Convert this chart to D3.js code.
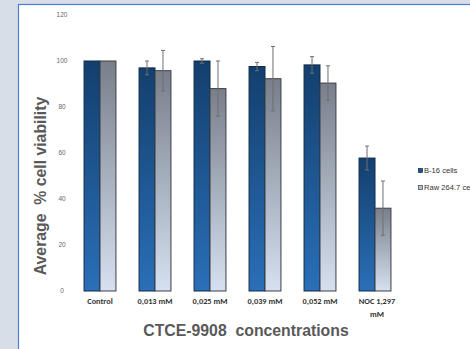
<!DOCTYPE html>
<html><head><meta charset="utf-8">
<script src="https://cdn.jsdelivr.net/npm/d3@7"></script>
<style>html,body{margin:0;padding:0;background:#d7dee8;overflow:hidden}</style>
</head><body>
<svg id="c" width="470" height="349"></svg>
<script>
const categories = ["Control","0,013 mM","0,025 mM","0,039 mM","0,052 mM","NOC 1,297 mM"];
const seriesNames = ["B-16 cells","Raw 264.7 cells"];
const b16Values = [100, 97, 100, 97.6, 98.3, 57.8];
const b16Errors = [0, 3, 1, 1.8, 3.6, 5.2];
const rawValues = [100, 95.8, 88, 92.3, 90.4, 36];
const rawErrors = [0, 8.8, 12, 14, 7.5, 11.8];
const yTicks = [0,20,40,60,80,100,120];

const svg = d3.select("#c");
const defs = svg.append("defs");
const g1 = defs.append("linearGradient").attr("id","gB").attr("x1",0).attr("y1",0).attr("x2",0).attr("y2",1);
g1.append("stop").attr("offset","0%").attr("stop-color","#133f6d");
g1.append("stop").attr("offset","100%").attr("stop-color","#2a6fb8");
const g2 = defs.append("linearGradient").attr("id","gR").attr("x1",0).attr("y1",0).attr("x2",0).attr("y2",1);
g2.append("stop").attr("offset","0%").attr("stop-color","#787f8b");
g2.append("stop").attr("offset","100%").attr("stop-color","#d6e0f0");

// white panel
svg.append("rect").attr("x",18.5).attr("y",4.5).attr("width",460).attr("height",360)
  .attr("fill","#fff").attr("stroke","#4a7fd6").attr("stroke-width",1.2);

const x0 = d3.scaleBand().domain(categories).range([72.5,402.5]).paddingInner(0.42).paddingOuter(0.21);
const x1 = d3.scaleBand().domain(seriesNames).range([0,x0.bandwidth()]);
const y = d3.scaleLinear().domain([0,120]).range([291,15]);

// y tick labels
svg.append("g").selectAll("text").data(yTicks).join("text")
  .attr("x",62).attr("y",d=>y(d)+2).attr("text-anchor","middle")
  .attr("font-family","Liberation Sans, Arial, sans-serif").attr("font-size",6.5).attr("fill","#666")
  .text(d=>d);

const series = [
  {name:seriesNames[0], vals:b16Values, errs:b16Errors, fill:"url(#gB)", stroke:"#0f2a48"},
  {name:seriesNames[1], vals:rawValues, errs:rawErrors, fill:"url(#gR)", stroke:"#3a3f47"}
];
series.forEach(s=>{
  const g = svg.append("g");
  g.selectAll("rect").data(categories).join("rect")
    .attr("x",c=>x0(c)+x1(s.name)).attr("width",x1.bandwidth())
    .attr("y",(c,i)=>y(s.vals[i])).attr("height",(c,i)=>y(0)-y(s.vals[i]))
    .attr("fill",s.fill).attr("stroke",s.stroke).attr("stroke-width",1);
});
series.forEach(s=>{
  const g = svg.append("g").attr("stroke","#6f6f6f").attr("stroke-width",1);
  categories.forEach((c,i)=>{
    if(!s.errs[i]) return;
    const cx = x0(c)+x1(s.name)+x1.bandwidth()/2;
    const t = y(s.vals[i]+s.errs[i]), b = y(s.vals[i]-s.errs[i]);
    g.append("line").attr("x1",cx).attr("x2",cx).attr("y1",t).attr("y2",b);
    g.append("line").attr("x1",cx-2).attr("x2",cx+2).attr("y1",t).attr("y2",t);
    g.append("line").attr("x1",cx-2).attr("x2",cx+2).attr("y1",b).attr("y2",b);
  });
});

// x labels
const xl = svg.append("g").attr("font-family","Carlito, Liberation Sans, Arial, sans-serif")
  .attr("font-size",8.3).attr("font-weight","bold").attr("fill","#333").attr("text-anchor","middle");
categories.forEach(c=>{
  const cx = x0(c)+x0.bandwidth()/2;
  if(c.startsWith("NOC")){
    xl.append("text").attr("x",cx+2).attr("y",304).text("NOC 1,297");
    xl.append("text").attr("x",cx+2).attr("y",316.5).text("mM");
  } else {
    xl.append("text").attr("x",cx).attr("y",304).text(c);
  }
});

// axis titles
svg.append("text").attr("x",246).attr("y",336).attr("text-anchor","middle")
  .attr("font-family","Liberation Sans, Arial, sans-serif").attr("font-size",15.8).attr("font-weight","bold")
  .attr("fill","#595959").attr("xml:space","preserve").style("white-space","pre").text("CTCE-9908  concentrations");
svg.append("text").attr("transform","translate(46,186) rotate(-90)").attr("text-anchor","middle")
  .attr("font-family","Liberation Sans, Arial, sans-serif").attr("font-size",15.8).attr("font-weight","bold")
  .attr("fill","#595959").style("white-space","pre").text("Average  % cell viability");

// legend
const lg = svg.append("g");
series.forEach((s,i)=>{
  const ly = 171 + i*17;
  lg.append("rect").attr("x",418.5).attr("y",ly-2.5).attr("width",4).attr("height",4)
    .attr("fill",i===0?"#1d5592":"#b8c2d2").attr("stroke",s.stroke).attr("stroke-width",0.7);
  lg.append("text").attr("x",424).attr("y",ly+2.4).attr("font-family","Liberation Sans, Arial, sans-serif")
    .attr("font-size",7.6).attr("fill","#333").text(s.name);
});
</script>
</body></html>
